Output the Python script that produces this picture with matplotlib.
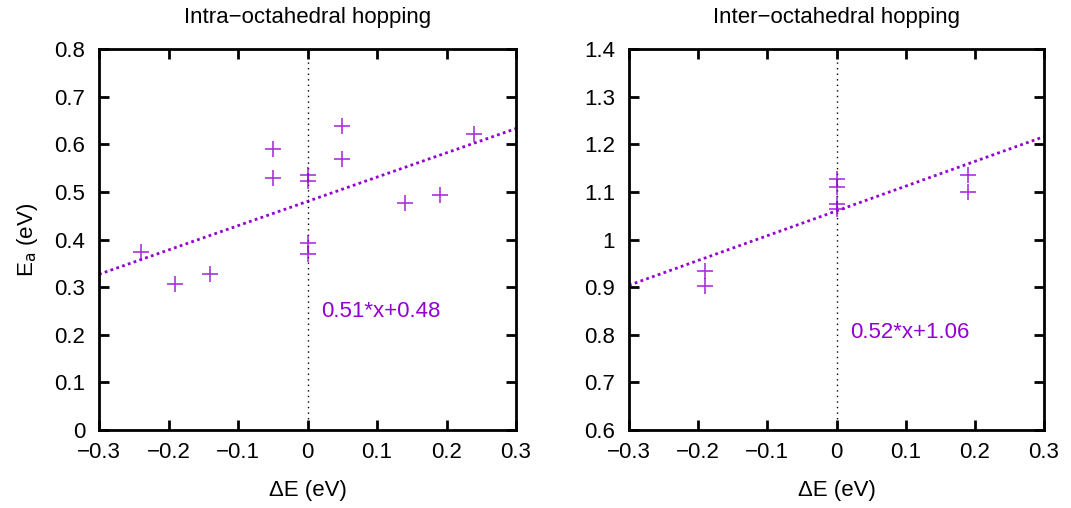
import numpy as np
import matplotlib
matplotlib.use('Agg')
import matplotlib.pyplot as plt

plt.rcParams['font.family'] = ['Liberation Sans', 'DejaVu Sans']
plt.rcParams['font.size'] = 16

# intra-octahedral hopping
intra_dE = [-0.24, -0.19, -0.14, -0.05, -0.05, 0.0, 0.0, 0.0, 0.0, 0.05, 0.05, 0.14, 0.19, 0.24]
intra_Ea = [0.374, 0.307, 0.328, 0.591, 0.530, 0.535, 0.523, 0.393, 0.369, 0.638, 0.568, 0.477, 0.493, 0.621]
intra_fit = (0.51, 0.48)

# inter-octahedral hopping
inter_dE = [-0.19, -0.19, 0.0, 0.0, 0.0, 0.0, 0.19, 0.19]
inter_Ea = [0.933, 0.903, 1.126, 1.110, 1.074, 1.065, 1.136, 1.099]
inter_fit = (0.52, 1.06)

color = '#9400d3'

fig = plt.figure(figsize=(10.71, 5.08), dpi=100)
W, H = 1071, 508
ax1 = fig.add_axes([99 / W, 1 - 430 / H, 417 / W, 381 / H])
ax2 = fig.add_axes([629 / W, 1 - 430 / H, 415 / W, 381 / H])


def draw(ax, x, y, fit, ylim, yticks, title, fit_pos):
    xs = np.array([-0.3, 0.3])
    ax.plot(xs, fit[0] * xs + fit[1], ls=(0, (1, 1.2)), color=color, lw=2)
    ax.axvline(0, color='black', ls=(0, (1, 3)), lw=1)
    ax.plot(x, y, '+', color=color, ms=12, mew=1.2, alpha=0.8)
    ax.set_xlim(-0.3, 0.3)
    ax.set_ylim(*ylim)
    ax.set_xticks(np.arange(-0.3, 0.31, 0.1))
    ax.set_xticklabels(['\u22120.3', '\u22120.2', '\u22120.1', '0', '0.1', '0.2', '0.3'])
    ax.set_yticks(yticks)
    ax.set_yticklabels([('%g' % v) for v in yticks])
    ax.tick_params(direction='in', top=True, right=True, length=7, width=2)
    ax.tick_params(axis='x', pad=9)
    ax.tick_params(axis='y', pad=10)
    for s in ax.spines.values():
        s.set_linewidth(2)
    ax.set_xlabel('\u0394E (eV)', labelpad=12)
    ax.set_title(title, fontsize=16, pad=19)
    ax.text(fit_pos[0], fit_pos[1], '%.2f*x+%.2f' % fit, color=color,
            fontsize=16, va='center', ha='left')


draw(ax1, intra_dE, intra_Ea, intra_fit, (0, 0.8), np.round(np.arange(0, 0.81, 0.1), 1),
     'Intra\u2212octahedral hopping', (0.019, 0.248))
draw(ax2, inter_dE, inter_Ea, inter_fit, (0.6, 1.4), np.round(np.arange(0.6, 1.41, 0.1), 1),
     'Inter\u2212octahedral hopping', (0.02, 0.804))

ax1.set_ylabel('E$_\\mathrm{a}$ (eV)', labelpad=10)

fig.savefig('out.png', dpi=100)
